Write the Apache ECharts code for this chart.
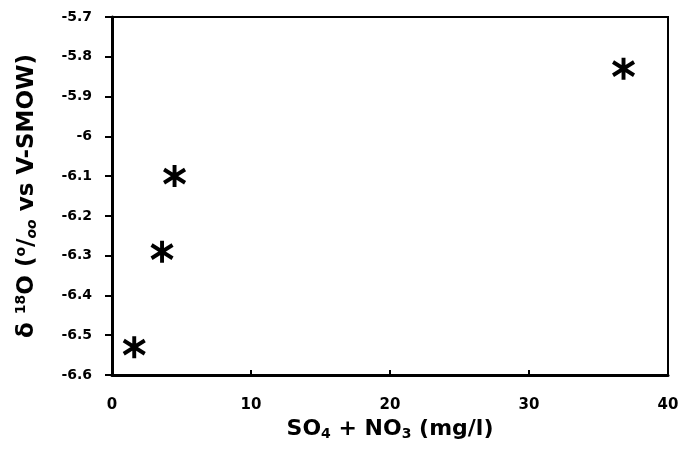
<!DOCTYPE html>
<html>
<head>
<meta charset="utf-8">
<script src="https://cdn.jsdelivr.net/npm/echarts@6/dist/echarts.min.js"></script>
<style>
html,body{margin:0;padding:0;background:#fff;}
#chart{width:683px;height:460px;}
</style>
</head>
<body>
<div id="chart"></div>
<script>
// 数据
const xValues = [1.6, 3.6, 4.5, 36.8];
const yValues = [-6.53, -6.29, -6.10, -5.83];
const xTicks = [0, 10, 20, 30, 40];
const yTicks = [-6.6, -6.5, -6.4, -6.3, -6.2, -6.1, -6, -5.9, -5.8, -5.7];

window.onload = function(){
    let chart = echarts.init(document.getElementById('chart'));

    // 星号标记
    let star = 'path://M0,-10 L0,10 M-9,-6 L9,6 M-9,6 L9,-6';

    let points = xValues.map(function(x, i){ return [x, yValues[i]]; });

    let font = '"DejaVu Sans", sans-serif';

    let option = {
        animation:false,
        grid:{
            left:112,
            right:15,
            top:17,
            bottom:85,
            show:true,
            borderColor:'#000',
            borderWidth:2
        },
        xAxis:{
            type:'value',
            min:xTicks[0],
            max:xTicks[xTicks.length-1],
            interval:10,
            splitLine:{show:false},
            axisLine:{lineStyle:{color:'#000',width:3}},
            axisTick:{inside:true,length:5,lineStyle:{color:'#000',width:2}},
            axisLabel:{color:'#000',fontFamily:font,fontWeight:'bold',fontSize:15,margin:23},
            name:'{b|SO}{s|4}{b| + NO}{s|3}{b| (mg/l)}',
            nameLocation:'middle',
            nameGap:42,
            nameTextStyle:{
                rich:{
                    b:{fontFamily:font,fontWeight:'bold',fontSize:22,color:'#000'},
                    s:{fontFamily:font,fontWeight:'bold',fontSize:14,color:'#000',padding:[10,0,0,0]}
                }
            }
        },
        yAxis:{
            type:'value',
            min:yTicks[0],
            max:yTicks[yTicks.length-1],
            interval:0.1,
            splitLine:{show:false},
            axisLine:{lineStyle:{color:'#000',width:3}},
            axisTick:{length:7,lineStyle:{color:'#000',width:2}},
            axisLabel:{
                color:'#000',fontFamily:font,fontWeight:'bold',fontSize:14,margin:20,
                formatter:function(v){ return String(+v.toFixed(1)); }
            },
            name:'{b|δ }{p|18}{b|O (}{p|o}{b|/}{sb|oo}{b| vs V-SMOW)}',
            nameLocation:'middle',
            nameRotate:90,
            nameGap:72,
            nameTextStyle:{
                rich:{
                    b:{fontFamily:font,fontWeight:'bold',fontSize:23,color:'#000'},
                    p:{fontFamily:font,fontWeight:'bold',fontSize:14,color:'#000',padding:[0,0,12,0]},
                    sb:{fontFamily:font,fontWeight:'bold',fontStyle:'italic',fontSize:14,color:'#000',padding:[10,0,0,0]}
                }
            }
        },
        series:[{
            type:'scatter',
            data:points,
            symbol:star,
            symbolSize:[21,22],
            itemStyle:{color:'#000',borderColor:'#000',borderWidth:4,opacity:1}
        }]
    };

    chart.setOption(option);
};
</script>
</body>
</html>
